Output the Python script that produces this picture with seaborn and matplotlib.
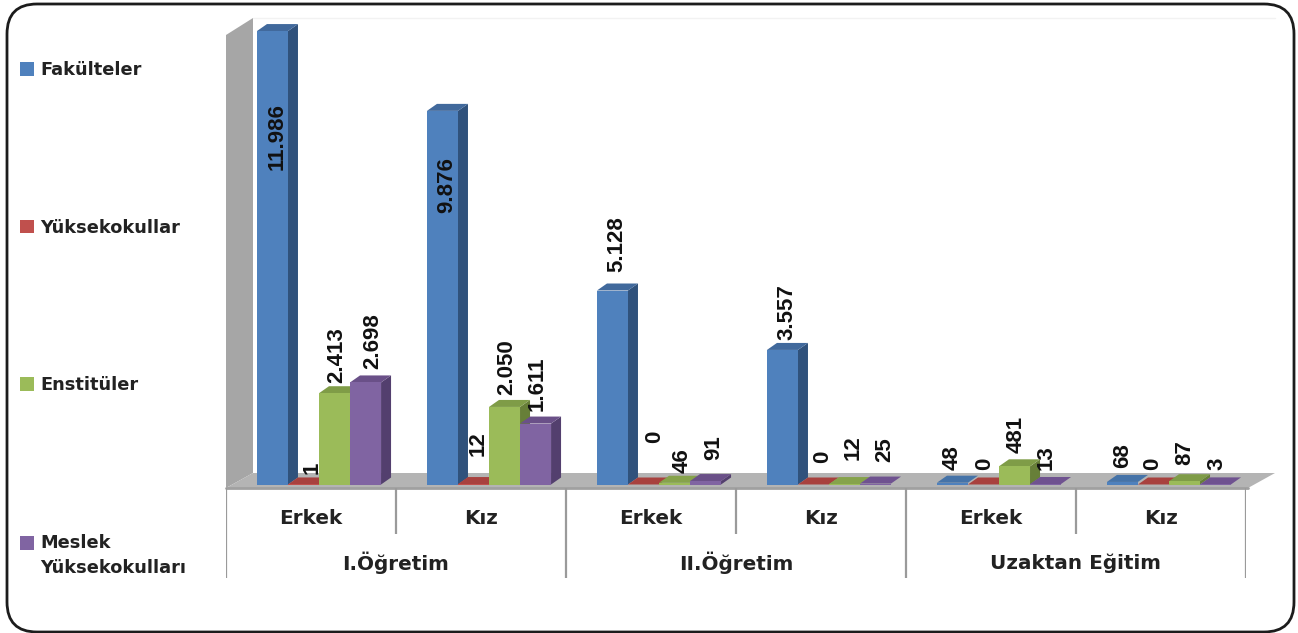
import matplotlib
matplotlib.use("Agg")
import matplotlib.pyplot as plt
from matplotlib.patches import Polygon, FancyBboxPatch
from matplotlib.transforms import IdentityTransform
import pandas as pd
import seaborn as sns

# ---- data ----
programs = ["I.Öğretim", "II.Öğretim", "Uzaktan Eğitim"]
genders = ["Erkek", "Kız"]
fakulteler = [11986, 9876, 5128, 3557, 48, 68]
yuksekokullar = [1, 12, 0, 0, 0, 0]
enstituler = [2413, 2050, 46, 12, 481, 87]
meslek = [2698, 1611, 91, 25, 13, 3]
series_names = ["Fakülteler", "Yüksekokullar", "Enstitüler", "Meslek\nYüksekokulları"]

# ---- style ----
W, H = 1298, 633
front = ["#4F81BD", "#C0504D", "#9BBB59", "#8064A2"]
side = ["#30527C", "#7E3230", "#677F38", "#533F6E"]
top = ["#41699C", "#A23F3C", "#7F9C47", "#6A5088"]
flat = ["#4573A8", "#A8413E", "#86A34B", "#6F5290"]
# label nudges from the top-centre of each bar, pixels (right, up), per series
nudge_x = [[4.5, 4.3, 4, 4, 0, 0], [8.5, 4.3, 11, 9, 1, -1], [2.5, 2.3, 8, 9, 2, 0], [7.5, 1.3, 8, 9, 1, 1]]
nudge_y = [[-139, -102, 18.5, 10, 12.7, 14], [10.5, 28, 41.5, 21.5, 14.5, 14.5],
           [10, 12, 10, 24, 13.3, 16], [13, 13, 21, 21.5, 14, 14.4]]
DX, DY = 10, 7

sns.set_theme(style="white")
plt.rcParams["font.family"] = ["DejaVu Sans"]

fig = plt.figure(figsize=(W / 100, H / 100), dpi=100, facecolor="white")


def rect(left, top_px, right, bottom_px):
    return [left / W, 1 - bottom_px / H, (right - left) / W, (bottom_px - top_px) / H]


# pixel overlay for the chart furniture
bg = fig.add_axes([0, 0, 1, 1], zorder=0)
bg.set_xlim(0, W)
bg.set_ylim(H, 0)
bg.axis("off")
bg.add_patch(FancyBboxPatch((7 + 30, 4 + 30), 1287 - 60, 628 - 60,
                            boxstyle="round,pad=30,rounding_size=30",
                            fc="white", ec="#1c1c1c", lw=2))
bg.add_patch(Polygon([(226, 488), (226, 35), (253, 18), (253, 473)], fc="#A6A6A6", ec="none"))
bg.plot([253, 1275], [18, 18], color="#F2F2F2", lw=1)
bg.add_patch(Polygon([(226, 488), (253, 473), (1275, 473), (1248, 488)], fc="#B4B4B4", ec="none"))
bg.plot([226, 1248], [488, 488], color="#A0A0A0", lw=2)

# axis furniture: one unit per bar group
ax_axis = fig.add_axes(rect(226, 488, 1246, 578), zorder=0.5)
ax_axis.set_xlim(-0.5, 5.5)
ax_axis.set_ylim(90, 0)
ax_axis.axis("off")
for i in range(7):
    ax_axis.vlines(i - 0.5, 0, 90 if i % 2 == 0 else 46, color="#9A9A9A", lw=1.6)
for p, prog in enumerate(programs):
    for g, gen in enumerate(genders):
        ax_axis.text(2 * p + g, 31, gen, ha="center", va="center", fontsize=14.4,
                     fontweight="bold", color="#222222")
    ax_axis.text(2 * p + 0.5, 75, prog, ha="center", va="center", fontsize=14.4,
                 fontweight="bold", color="#222222")

# bars
categories = [f"{prog} {gen}" for prog in programs for gen in genders]
frames = []
for name, values in zip(series_names, [fakulteler, yuksekokullar, enstituler, meslek]):
    frames.append(pd.DataFrame({"kategori": categories, "seri": name, "sayi": values}))
df = pd.concat(frames, ignore_index=True)

ax = fig.add_axes(rect(234, 15.4, 1254, 484.5), zorder=1)
ax.patch.set_alpha(0)
sns.barplot(data=df, x="kategori", y="sayi", hue="seri", hue_order=series_names,
            palette=front, saturation=1, width=0.73, gap=0, dodge=True, legend=False,
            errorbar=None, ax=ax, linewidth=0)
ax.set_xlim(-0.5, 5.5)
ax.set_ylim(0, 12400)
ax.axis("off")

idt = IdentityTransform()
series_values = [fakulteler, yuksekokullar, enstituler, meslek]
for s, container in enumerate(ax.containers):
    for c, bar in enumerate(container):
        val = series_values[s][c]
        x0, x1 = bar.get_x(), bar.get_x() + bar.get_width()
        (px0, py0), (px1, py1) = ax.transData.transform([(x0, 0), (x1, val)])
        bar.set_zorder(3 + s + 0.5)
        bar.set_clip_on(False)
        tall = py1 - py0 > 3
        top_poly = [(px0, py1), (px1, py1), (px1 + DX, py1 + DY), (px0 + DX, py1 + DY)]
        ax.add_patch(Polygon(top_poly, transform=idt, fc=top[s] if tall else flat[s], ec="none",
                             zorder=3 + s + 0.2, clip_on=False))
        if tall:
            side_poly = [(px1, py0), (px1, py1), (px1 + DX, py1 + DY), (px1 + DX, py0 + DY)]
            ax.add_patch(Polygon(side_poly, transform=idt, fc=side[s], ec="none",
                                 zorder=3 + s + 0.1, clip_on=False))
        label = f"{val:,}".replace(",", ".")
        ax.annotate(label, xy=((x0 + x1) / 2, val), xycoords="data",
                    xytext=(nudge_x[s][c] * 0.72, nudge_y[s][c] * 0.72), textcoords="offset points",
                    rotation=90, ha="center", va="bottom", fontsize=16, fontweight="bold",
                    family="Liberation Sans", color="#111111",
                    annotation_clip=False, zorder=20)

# legend, one entry per series
handles = [plt.Rectangle((0, 0), 1, 1, fc=c, ec="none") for c in front]
leg = fig.legend(handles, series_names, loc="upper left", bbox_to_anchor=(20 / W, 1 - 61 / H),
                 bbox_transform=fig.transFigure, frameon=False, borderpad=0, borderaxespad=0,
                 labelspacing=7.85, handlelength=0.8, handleheight=0.8,
                 handletextpad=0.35, labelcolor="#222222", prop={"weight": "bold", "size": 12.8})
leg.get_texts()[3].set_linespacing(1.5)
last = leg.legend_handles[3]
last.set_y(last.get_y() + 9.4)

fig.savefig("out.png", dpi=100, facecolor="white")
